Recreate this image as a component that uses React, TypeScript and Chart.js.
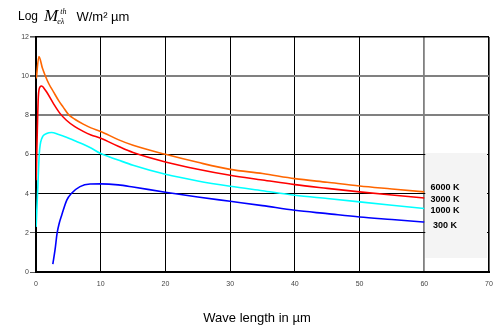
import React, { useEffect, useRef } from "react";
import { Chart, registerables } from "chart.js";

Chart.register(...registerables);

// Wavelength (µm) and log radiant exitance per temperature
const seriesLabels = ["6000 K", "3000 K", "1000 K", "300 K"];
const seriesColors = ["#ff6600", "#ff0000", "#00ffff", "#0000ff"];

const x6000 = [0.05, 0.45, 1.0, 1.4, 2.0, 2.7, 3.5, 4.2, 5.0, 6.0, 7.3, 8.5, 10, 12.7, 15, 20, 25, 30, 35, 40, 45, 50, 55, 60];
const y6000 = [9.88, 11.0, 10.4, 10.05, 9.6, 9.2, 8.75, 8.42, 8.05, 7.8, 7.55, 7.36, 7.18, 6.76, 6.47, 6.01, 5.6, 5.24, 5.03, 4.77, 4.58, 4.39, 4.24, 4.09];

const x3000 = [0.02, 0.2, 0.36, 0.62, 0.88, 1.2, 1.65, 2.7, 3.7, 4.7, 6.0, 7.3, 8.5, 10, 12.7, 15, 20, 25, 30, 35, 40, 45, 50, 55, 60];
const y3000 = [4.68, 7.2, 8.94, 9.45, 9.5, 9.4, 9.19, 8.6, 8.1, 7.75, 7.42, 7.18, 7.0, 6.83, 6.42, 6.1, 5.62, 5.25, 4.94, 4.7, 4.46, 4.27, 4.09, 3.93, 3.78];

const x1000 = [0.02, 0.26, 0.51, 0.88, 1.65, 2.4, 3.5, 4.7, 6.0, 7.3, 8.5, 10, 12.7, 15, 20, 25, 30, 35, 40, 45, 50, 55, 60];
const y1000 = [2.3, 4.17, 6.05, 6.81, 7.07, 7.12, 7.02, 6.88, 6.7, 6.52, 6.33, 6.05, 5.72, 5.45, 4.99, 4.65, 4.38, 4.15, 3.92, 3.75, 3.58, 3.41, 3.24];

const x300 = [2.6, 2.95, 3.25, 3.6, 3.97, 4.74, 5.5, 6.8, 8.35, 10, 12.7, 15, 20, 25, 30, 35, 40, 45, 50, 55, 60];
const y300 = [0.4, 1.15, 1.96, 2.5, 2.9, 3.66, 4.02, 4.36, 4.49, 4.5, 4.45, 4.34, 4.07, 3.83, 3.61, 3.39, 3.15, 2.98, 2.81, 2.68, 2.55];

const xTicks = [0, 10, 20, 30, 40, 50, 60, 70];
const yTicks = [0, 2, 4, 6, 8, 10, 12];

const seriesX = [x6000, x3000, x1000, x300];
const seriesY = [y6000, y3000, y1000, y300];

const PLOT_RIGHT = 489;

const fixAreaPlugin = {
  id: "fixArea",
  afterLayout(chart: any) {
    const xs = chart.scales.x;
    chart.chartArea.right = PLOT_RIGHT;
    chart.chartArea.width = PLOT_RIGHT - chart.chartArea.left;
    xs.right = PLOT_RIGHT;
    xs.width = PLOT_RIGHT - xs.left;
    xs.configure();
  },
};

const legendBoxPlugin = {
  id: "legendBox",
  beforeDatasetsDraw(chart: any) {
    const { ctx, chartArea } = chart;
    const xs = chart.scales.x;
    const left = xs.getPixelForValue(60) + 1;
    const right = chartArea.right - 2;
    const top = 153;
    const bottom = 258;
    ctx.save();
    ctx.fillStyle = "#f4f4f4";
    ctx.fillRect(left, top, right - left, bottom - top);
    ctx.restore();
  },
  afterDatasetsDraw(chart: any) {
    const { ctx } = chart;
    const pos = [
      [430.5, 188],
      [430.5, 199.5],
      [430.5, 211],
      [433, 226],
    ];
    ctx.save();
    ctx.fillStyle = "#000";
    ctx.font = "bold 9px 'Liberation Sans', Arial, sans-serif";
    ctx.textBaseline = "middle";
    ctx.textAlign = "left";
    chart.data.datasets.forEach((ds: any, i: number) => {
      ctx.fillText(ds.label, pos[i][0], pos[i][1]);
    });
    ctx.restore();
  },
};

export default function App() {
  const canvasRef = useRef<HTMLCanvasElement | null>(null);

  useEffect(() => {
    document.body.style.margin = "0";
    const canvas = canvasRef.current;
    if (!canvas) return;
    const chart = new Chart(canvas, {
      type: "line",
      data: {
        datasets: seriesLabels.map((label, i) => ({
          label,
          data: seriesX[i].map((x, j) => ({ x, y: seriesY[i][j] })),
          borderColor: seriesColors[i],
          backgroundColor: seriesColors[i],
          borderWidth: 1.6,
          pointRadius: 0,
          cubicInterpolationMode: "monotone" as const,
          fill: false,
        })),
      },
      options: {
        animation: false,
        responsive: false,
        maintainAspectRatio: false,
        layout: { padding: { left: 0, right: 0, top: 37, bottom: 0 } },
        plugins: {
          legend: { display: false },
          tooltip: { enabled: false },
          title: { display: false },
        },
        scales: {
          x: {
            type: "linear",
            min: 0,
            max: 70,
            afterBuildTicks: (scale: any) => {
              scale.ticks = xTicks.map((v) => ({ value: v }));
            },
            afterFit: (scale: any) => {
              scale.height = 57;
            },
            ticks: {
              color: "#444",
              font: { size: 7, family: "'Liberation Sans', Arial, sans-serif" },
              padding: 8,
              maxRotation: 0,
            },
            grid: {
              drawTicks: false,
              color: (c: any) => (c.tick && c.tick.value === 60 ? "#808080" : "#000"),
              lineWidth: (c: any) =>
                c.tick && c.tick.value === 60 ? 1.8 : c.tick && c.tick.value === 70 ? 1.6 : 1,
            },
            border: { display: true, color: "#000", width: 2 },
          },
          y: {
            type: "linear",
            min: 0,
            max: 12,
            afterBuildTicks: (scale: any) => {
              scale.ticks = yTicks.map((v) => ({ value: v }));
            },
            afterFit: (scale: any) => {
              scale.width = 36;
            },
            ticks: {
              color: "#444",
              font: { size: 7, family: "'Liberation Sans', Arial, sans-serif" },
              padding: 1,
            },
            grid: {
              tickLength: 6,
              tickColor: "#555",
              color: (c: any) =>
                c.tick && (c.tick.value === 8 || c.tick.value === 10) ? "#808080" : "#000",
              lineWidth: (c: any) =>
                c.tick && (c.tick.value === 8 || c.tick.value === 10)
                  ? 2
                  : c.tick && c.tick.value === 12
                  ? 1.6
                  : 1,
            },
            border: { display: true, color: "#000", width: 2 },
          },
        },
      },
      plugins: [fixAreaPlugin, legendBoxPlugin],
    });
    return () => chart.destroy();
  }, []);

  const sans = "'Liberation Sans', Arial, sans-serif";
  const serif = "'Liberation Serif', 'Times New Roman', serif";

  return (
    <div style={{ position: "absolute", left: 0, top: 0, width: 495, height: 329, background: "#fff" }}>
      <canvas ref={canvasRef} width={495} height={329} style={{ position: "absolute", left: 0, top: 0, width: 495, height: 329 }} />
      <div
        style={{
          position: "absolute",
          left: 18,
          top: 4,
          fontFamily: sans,
          fontSize: 12,
          color: "#000",
          whiteSpace: "nowrap",
          display: "flex",
          alignItems: "center",
          height: 24,
        }}
      >
        <span>Log</span>
        <span style={{ fontFamily: serif, fontStyle: "italic", fontSize: 17, marginLeft: 6 }}>M</span>
        <span
          style={{
            display: "inline-flex",
            flexDirection: "column",
            fontFamily: serif,
            fontStyle: "italic",
            fontSize: 8,
            lineHeight: "10px",
            marginLeft: -1,
            marginTop: 2,
          }}
        >
          <span style={{ paddingLeft: 3 }}>th</span>
          <span>eλ</span>
        </span>
        <span style={{ marginLeft: 10, fontSize: 13 }}>W/m² µm</span>
      </div>
      <div
        style={{
          position: "absolute",
          left: 157,
          width: 200,
          top: 310,
          textAlign: "center",
          fontFamily: sans,
          fontSize: 13,
          color: "#000",
        }}
      >
        Wave length in µm
      </div>
    </div>
  );
}
